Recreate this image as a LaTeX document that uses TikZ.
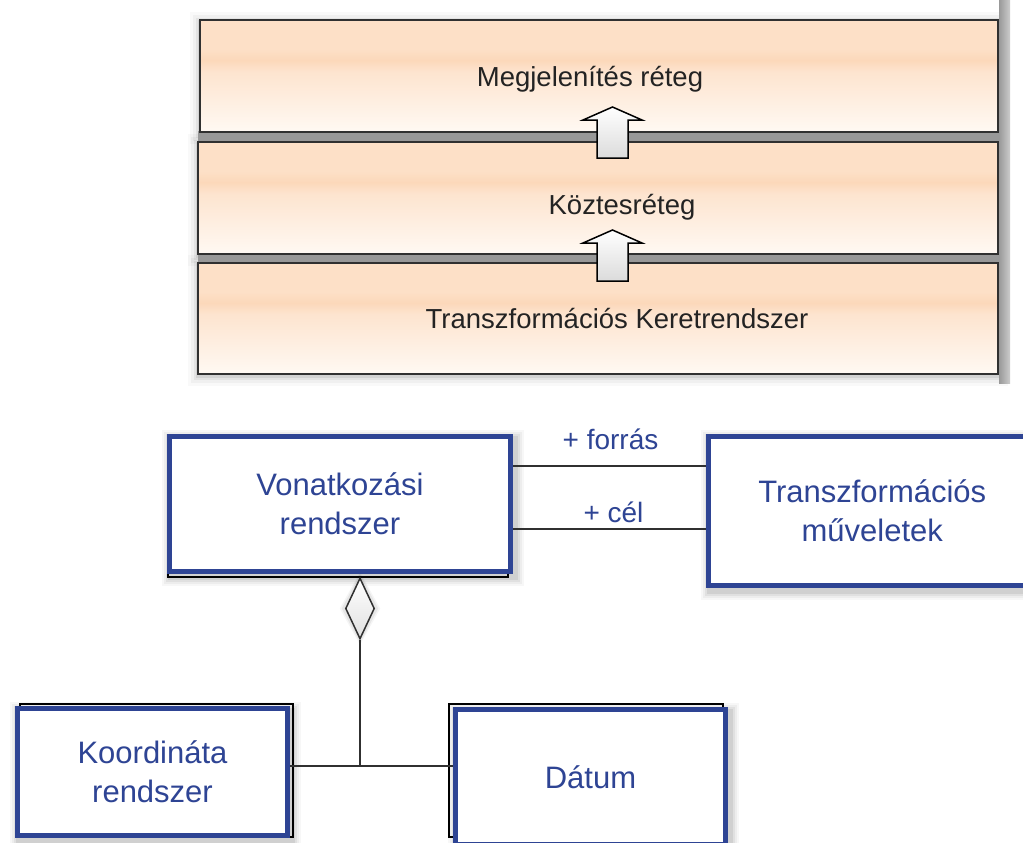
\documentclass[tikz,border=0pt]{standalone}
\usepackage{fontspec}
\setmainfont{Liberation Sans}
\usetikzlibrary{shapes.geometric,calc}
\definecolor{umlblue}{RGB}{46,68,148}
\definecolor{layertxt}{RGB}{35,35,35}
\definecolor{edgegrey}{RGB}{48,48,48}
\definecolor{bandgrey}{RGB}{152,152,152}
\definecolor{pkA}{RGB}{255,249,243}
\definecolor{pkB}{RGB}{253,228,207}
\definecolor{pkC}{RGB}{252,216,186}
\definecolor{pkD}{RGB}{253,224,199}
\pgfdeclareverticalshading{peach}{100bp}{color(0bp)=(pkA); color(25bp)=(pkA); color(52bp)=(pkB); color(57bp)=(pkC); color(62bp)=(pkD); color(75bp)=(pkD); color(100bp)=(pkD)}
\pgfdeclarelayer{background}
\pgfsetlayers{background,main}
\begin{document}
\begin{tikzpicture}[x=1pt,y=-1pt,
  layerbox/.style={draw=edgegrey, line width=2pt, shade, shading=peach, inner sep=0pt, outer sep=0pt},
  layertext/.style={text=layertxt, font=\fontsize{27.5}{32}\selectfont, inner sep=0pt, anchor=base},
  umlbox/.style={draw=umlblue, line width=5pt, fill=white, inner sep=0pt, text=umlblue, align=center, font=\fontsize{31}{39}\selectfont},
  rolelabel/.style={text=umlblue, font=\fontsize{28}{32}\selectfont, inner sep=0pt, anchor=base},
  assoc/.style={draw=edgegrey, line width=1.5pt},
  ghost/.style={draw=black, line width=1.2pt},
  blockarrow/.style={draw=black, line width=1.5pt, top color=white, bottom color=black!14, line join=miter},
  aggdiamond/.style={draw=edgegrey, line width=1.5pt, diamond, aspect=0.475, inner sep=0pt, minimum width=29pt, minimum height=61pt, top color=white, bottom color=black!12},
]
\useasboundingbox (0,0) rectangle (1023,843);
\clip (0,0) rectangle (1023,843);

% ---------- top: layers ----------
\node[layerbox, minimum width=798pt, minimum height=112pt] (l1) at (599,76) {};
\node[layerbox, minimum width=800pt, minimum height=112pt] (l2) at (598,198) {};
\node[layerbox, minimum width=800pt, minimum height=111pt] (l3) at (598,318.5) {};

\node[layertext] (t1) at (590,86) {Megjelenítés réteg};
\node[layertext] (t2) at (622,214) {Köztesréteg};
\node[layertext] (t3) at (617,328) {Transzformációs Keretrendszer};

\coordinate (a1) at (612.5,158);
\coordinate (a2) at (612.5,281);
\foreach \a in {a1,a2}{
  \draw[blockarrow] ($(\a)+(-15.5,0)$) -- ($(\a)+(-15.5,-38)$) -- ($(\a)+(-29.5,-38)$)
    -- ($(\a)+(0,-51)$) -- ($(\a)+(29.5,-38)$) -- ($(\a)+(15.5,-38)$) -- ($(\a)+(15.5,0)$) -- cycle;
}

% ---------- bottom: UML ----------
\node[umlbox, minimum width=341pt, minimum height=135pt] (vonat) at (340,504) {Vonatkozási\\rendszer};
\node[umlbox, minimum width=327.5pt, minimum height=149pt] (trm) at (872.25,511) {Transzformációs\\műveletek};
\node[umlbox, minimum width=270pt, minimum height=127pt] (koord) at (152.5,772) {Koordináta\\rendszer};
\node[umlbox, minimum width=270pt, minimum height=135pt] (datum) at (590.5,777) {Dátum};

\draw[assoc] ([yshift=38pt]vonat.east) -- node[rolelabel, pos=0.5, xshift=1pt, yshift=17pt] (src) {+ forrás} ([yshift=38pt]vonat.east -| trm.west);
\draw[assoc] ([yshift=-25pt]vonat.east) -- node[rolelabel, pos=0.5, xshift=4pt, yshift=7pt] (tgt) {+ cél} ([yshift=-25pt]vonat.east -| trm.west);

\node[aggdiamond] (dia) at (360,608.5) {};
\coordinate (j) at (360,766);
\draw[assoc] (dia.south) -- (j);
\draw[assoc] (koord.east |- j) -- (datum.west |- j);

% ---------- background decorations ----------
\begin{pgfonlayer}{background}
  \fill[white] (0,0) rectangle (1023,843);
  % soft shadows of the layers
  \foreach \n in {l1,l2,l3}{
    \foreach \s/\o in {10/0.025,7/0.035,4/0.05,2/0.07}{
      \fill[black, opacity=\o] ($(\n.north west)+(-\s,2-\s)$) rectangle ($(\n.south east)+(\s,2+\s)$);
    }
  }
  % grey bands between the layers and right bar
  \fill[bandgrey] (198,131) rectangle (1001,143);
  \fill[bandgrey] (198,253) rectangle (1001,264);
  \shade[left color=black!40, right color=black!20] (999,0) rectangle (1010,383);
  % soft shadows of the UML boxes
  \foreach \n in {vonat,trm,koord,datum}{
    \foreach \s/\o in {8/0.03,6/0.04,4/0.05,2/0.07}{
      \fill[black, opacity=\o] ($(\n.north west)+(3-\s,4-\s)$) rectangle ($(\n.south east)+(3+\s,4+\s)$);
    }
  }
  \foreach \s/\o in {5/0.04,3/0.06}{
    \fill[black, opacity=\o] ($(dia.north)+(0,-\s)$) -- ($(dia.east)+(\s,0)$) -- ($(dia.south)+(0,\s)$) -- ($(dia.west)+(-\s,0)$) -- cycle;
  }
  % thin outlines behind the UML boxes
  \draw[ghost] (168,440) rectangle (508,577);
  \draw[ghost] (20,704) rectangle (293,837);
  \draw[ghost] (449,704) rectangle (723,837);
\end{pgfonlayer}
\end{tikzpicture}
\end{document}
